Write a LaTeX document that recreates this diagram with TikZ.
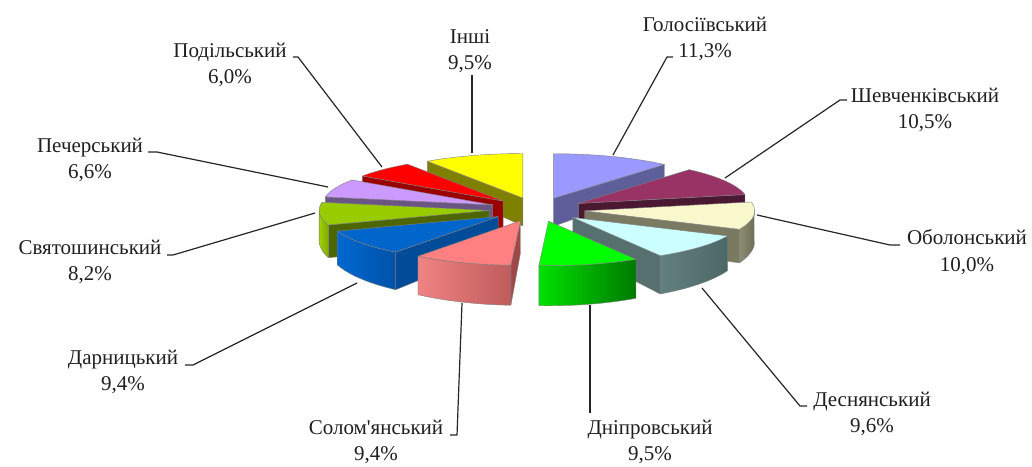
\documentclass[tikz,border=0pt]{standalone}
\usepackage{fontspec}
\setmainfont{Liberation Serif}[Ligatures=TeXOff]
\begin{document}
\begin{tikzpicture}[x=1pt,y=-1pt]
\tikzset{
  rim/.style={draw=black!50, line width=0.4pt, line join=round},
  leader/.style={draw=black!85, line width=1.2pt, line join=round},
  lbl/.style={align=center, font=\fontsize{21}{26.5}\selectfont, text=black!88, inner sep=0pt},
}
% One exploded 3D wedge: start angle, end angle (clockwise from the back),
% top colour, outer-face left/right colours, radial-face colour.
% Pie centre (537,209.5), radii 170 x 44.5, explosion 48 x 12,
% bottom edge = 1.18*y - 7.7 (thicker towards the front).
\newcommand\PieSlice[6]{%
  \pgfmathsetmacro\sBis{(#1+#2)/2}%
  \pgfmathsetmacro\sAx{537+48*sin(\sBis)}%
  \pgfmathsetmacro\sAy{209.5-12*cos(\sBis)}%
  \pgfmathsetmacro\sAyB{1.18*\sAy-7.7}%
  % radial face on the start side
  \pgfmathtruncatemacro\sVis{sin(#1)<-0.0001 ? 1 : 0}%
  \ifnum\sVis=1
    \path[rim, fill=#6] (\sAx,\sAy) -- ({\sAx+170*sin(#1)},{\sAy-44.5*cos(#1)})
      -- ({\sAx+170*sin(#1)},{1.18*(\sAy-44.5*cos(#1))-7.7}) -- (\sAx,\sAyB) -- cycle;
  \fi
  % radial face on the end side
  \pgfmathtruncatemacro\sVis{sin(#2)>0.0001 ? 1 : 0}%
  \ifnum\sVis=1
    \path[rim, fill=#6] (\sAx,\sAy) -- ({\sAx+170*sin(#2)},{\sAy-44.5*cos(#2)})
      -- ({\sAx+170*sin(#2)},{1.18*(\sAy-44.5*cos(#2))-7.7}) -- (\sAx,\sAyB) -- cycle;
  \fi
  % outer curved face
  \pgfmathsetmacro\sLo{max(#1,90)}%
  \pgfmathsetmacro\sHi{min(#2,270)}%
  \pgfmathtruncatemacro\sVis{\sHi>\sLo+0.01 ? 1 : 0}%
  \ifnum\sVis=1
    \path[rim, left color=#4, right color=#5]
      plot[domain=\sLo:\sHi, samples=30] ({\sAx+170*sin(\x)},{\sAy-44.5*cos(\x)})
      -- plot[domain=\sHi:\sLo, samples=30] ({\sAx+170*sin(\x)},{1.18*(\sAy-44.5*cos(\x))-7.7})
      -- cycle;
  \fi
  % top face
  \path[rim, fill=#3] (\sAx,\sAy)
    -- plot[domain=#1:#2, samples=40] ({\sAx+170*sin(\x)},{\sAy-44.5*cos(\x)}) -- cycle;
}
\definecolor{cHolT}{HTML}{9999FF}\definecolor{cHolR}{HTML}{5E5E9A}
\definecolor{cShvT}{HTML}{993366}\definecolor{cShvR}{HTML}{4A1830}
\definecolor{cOblT}{HTML}{F8F8CC}\definecolor{cOblA}{HTML}{8E8E74}\definecolor{cOblB}{HTML}{6C6C55}\definecolor{cOblR}{HTML}{7A7A62}
\definecolor{cDsnT}{HTML}{CCFFFF}\definecolor{cDsnA}{HTML}{62807F}\definecolor{cDsnB}{HTML}{4C6767}\definecolor{cDsnR}{HTML}{566F6F}
\definecolor{cDnpT}{HTML}{00FF00}\definecolor{cDnpA}{HTML}{00E000}\definecolor{cDnpB}{HTML}{007A00}
\definecolor{cSlmT}{HTML}{FF8080}\definecolor{cSlmA}{HTML}{F08282}\definecolor{cSlmB}{HTML}{BF5C5C}\definecolor{cSlmR}{HTML}{A04848}
\definecolor{cDrnT}{HTML}{0066CC}\definecolor{cDrnA}{HTML}{0068D0}\definecolor{cDrnB}{HTML}{0052A8}\definecolor{cDrnR}{HTML}{004C99}
\definecolor{cSvtT}{HTML}{99CC00}\definecolor{cSvtA}{HTML}{A0D000}\definecolor{cSvtB}{HTML}{7FA800}\definecolor{cSvtR}{HTML}{4D6600}
\definecolor{cPchT}{HTML}{CC99FF}\definecolor{cPchR}{HTML}{6B5585}
\definecolor{cPdlT}{HTML}{FF0000}\definecolor{cPdlR}{HTML}{990000}
\definecolor{cInsT}{HTML}{FFFF00}\definecolor{cInsR}{HTML}{808000}

\fill[white] (0,0) rectangle (1032,466);
\useasboundingbox (0,0) rectangle (1032,466);

% wedges, back to front
\PieSlice{325.8}{360}{cInsT}{cInsR}{cInsR}{cInsR}
\PieSlice{0}{40.68}{cHolT}{cHolR}{cHolR}{cHolR}
\PieSlice{304.2}{325.8}{cPdlT}{cPdlR}{cPdlR}{cPdlR}
\PieSlice{40.68}{78.48}{cShvT}{cShvR}{cShvR}{cShvR}
\PieSlice{280.44}{304.2}{cPchT}{cPchR}{cPchR}{cPchR}
\PieSlice{250.92}{280.44}{cSvtT}{cSvtA}{cSvtB}{cSvtR}
\PieSlice{78.48}{114.48}{cOblT}{cOblA}{cOblB}{cOblR}
\PieSlice{217.08}{250.92}{cDrnT}{cDrnA}{cDrnB}{cDrnR}
\PieSlice{114.48}{149.04}{cDsnT}{cDsnA}{cDsnB}{cDsnR}
\PieSlice{183.24}{217.08}{cSlmT}{cSlmA}{cSlmB}{cSlmR}
\PieSlice{149.04}{183.24}{cDnpT}{cDnpA}{cDnpB}{cDnpB}

% labels
\node[lbl] (lHol) at (705,39) {Голосіївський\\11,3\%};
\node[lbl] (lShv) at (925,110) {Шевченківський\\10,5\%};
\node[lbl] (lObl) at (967,252) {Оболонський\\10,0\%};
\node[lbl] (lDsn) at (872,414) {Деснянський\\9,6\%};
\node[lbl] (lDnp) at (650,442) {Дніпровський\\9,5\%};
\node[lbl] (lSlm) at (376,442) {Солом'янський\\9,4\%};
\node[lbl] (lDrn) at (123,372) {Дарницький\\9,4\%};
\node[lbl] (lSvt) at (90,262) {Святошинський\\8,2\%};
\node[lbl] (lPch) at (90,160) {Печерський\\6,6\%};
\node[lbl] (lPdl) at (230,65) {Подільський\\6,0\%};
\node[lbl] (lIns) at (470,51) {Інші\\9,5\%};

% leader anchors on the wedges and bend points
\coordinate (pHol) at (613,155); \coordinate (bHol) at (667,57); \coordinate (tHol) at (673,57);
\coordinate (pShv) at (725,178); \coordinate (bShv) at (840,100); \coordinate (tShv) at (847,100);
\coordinate (pObl) at (757,215); \coordinate (bObl) at (890,245); \coordinate (tObl) at (900,245);
\coordinate (pDsn) at (702,288); \coordinate (bDsn) at (800,406); \coordinate (tDsn) at (807,406);
\coordinate (pDnp) at (590,305); \coordinate (tDnp) at (590,413);
\coordinate (pSlm) at (462,303); \coordinate (bSlm) at (457,435); \coordinate (tSlm) at (450,435);
\coordinate (pDrn) at (357,283); \coordinate (bDrn) at (193,365); \coordinate (tDrn) at (185,365);
\coordinate (pSvt) at (315,213); \coordinate (bSvt) at (173,255); \coordinate (tSvt) at (167,255);
\coordinate (pPch) at (328,187); \coordinate (bPch) at (157,152); \coordinate (tPch) at (148,152);
\coordinate (pPdl) at (382,167); \coordinate (bPdl) at (298,57);  \coordinate (tPdl) at (293,57);
\coordinate (pIns) at (472,153); \coordinate (tIns) at (472,75);

\draw[leader] (pHol) -- (bHol) -- (tHol);
\draw[leader] (pShv) -- (bShv) -- (tShv);
\draw[leader] (pObl) -- (bObl) -- (tObl);
\draw[leader] (pDsn) -- (bDsn) -- (tDsn);
\draw[leader] (pDnp) -- (tDnp);
\draw[leader] (pSlm) -- (bSlm) -- (tSlm);
\draw[leader] (pDrn) -- (bDrn) -- (tDrn);
\draw[leader] (pSvt) -- (bSvt) -- (tSvt);
\draw[leader] (pPch) -- (bPch) -- (tPch);
\draw[leader] (pPdl) -- (bPdl) -- (tPdl);
\draw[leader] (pIns) -- (tIns);
\end{tikzpicture}
\end{document}
